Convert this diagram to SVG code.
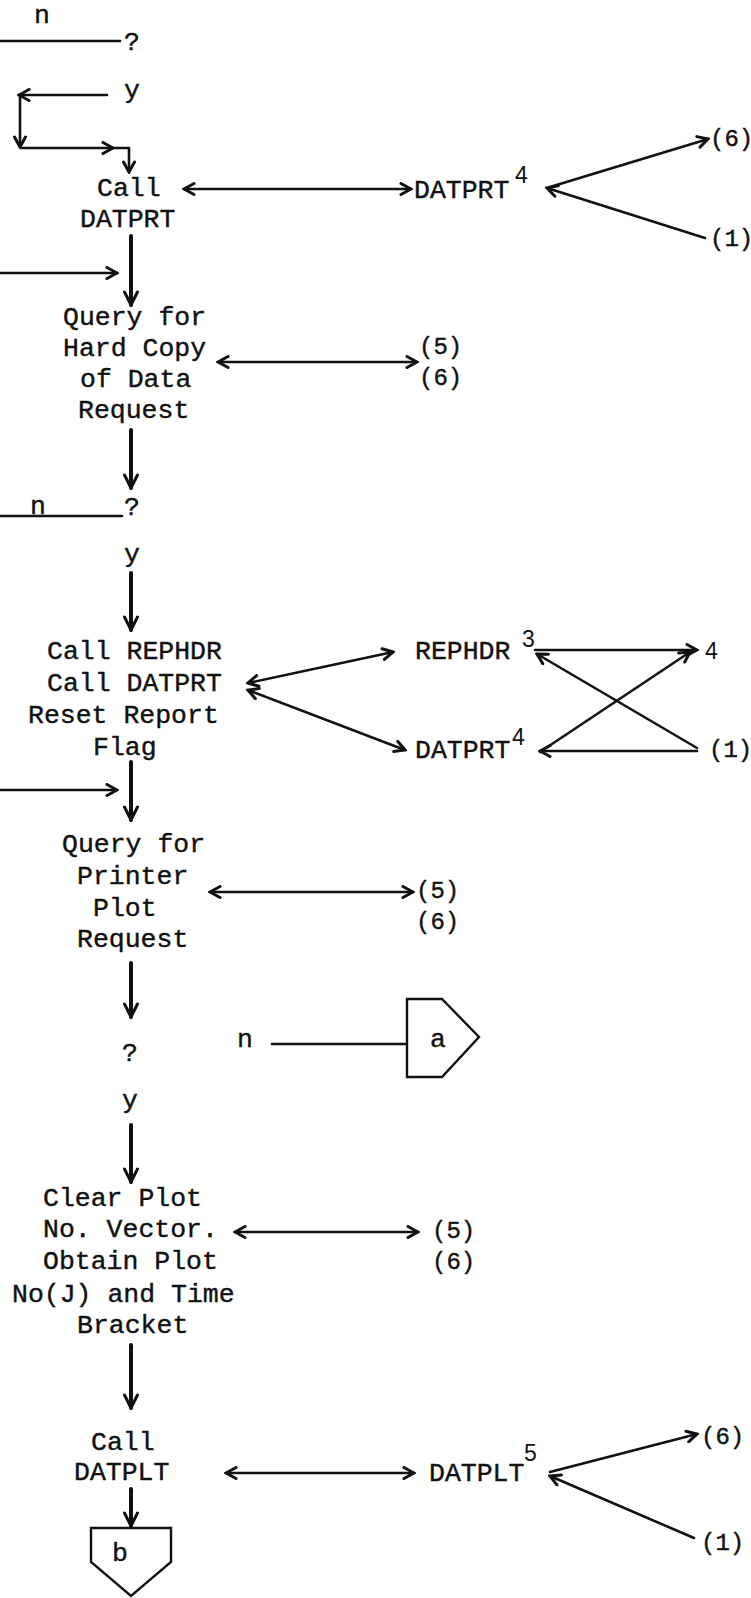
<svg xmlns="http://www.w3.org/2000/svg" width="751" height="1598" viewBox="0 0 751 1598">
<style>
.t{font-family:"Liberation Mono","DejaVu Sans Mono",monospace;font-size:26.5px;fill:#111;stroke:#111;stroke-width:0.4}
.p{font-family:"Liberation Mono","DejaVu Sans Mono",monospace;font-size:24px;fill:#111;stroke:#111;stroke-width:0.4}
.s{font-family:"Liberation Sans",Arial,sans-serif;font-size:23px;fill:#111}
.c{fill:none;stroke:#111;stroke-width:2.6;stroke-linecap:round;stroke-linejoin:round}
.v{fill:none;stroke:#111;stroke-width:4;stroke-linecap:round}
.shape{fill:#fff;stroke:#111;stroke-width:2.4;stroke-linejoin:miter}
</style>
<defs>
<marker id="ah" viewBox="0 0 14 14" refX="12" refY="7" markerWidth="14" markerHeight="14" markerUnits="userSpaceOnUse" orient="auto-start-reverse">
<path d="M2,1.5 L12,7 L2,12.5" fill="none" stroke="#111" stroke-width="3" stroke-linejoin="miter" stroke-linecap="round"/>
</marker>
<marker id="av" viewBox="0 0 18 16" refX="16" refY="8" markerWidth="18" markerHeight="16" markerUnits="userSpaceOnUse" orient="auto">
<path d="M3,1.5 L16,8 L3,14.5" fill="none" stroke="#111" stroke-width="3" stroke-linejoin="miter" stroke-linecap="round"/>
</marker>
</defs>

<g id="connectors">
<path class="c" d="M0,41 H120"/>
<path class="c" d="M107,95 H19" marker-end="url(#ah)"/>
<path class="c" d="M20,96 V147" marker-end="url(#ah)"/>
<path class="c" d="M21,148 H113" marker-end="url(#ah)"/>
<path class="c" d="M112,148 H129 V172" marker-end="url(#ah)"/>
<path class="c" d="M184,189 H411" marker-start="url(#ah)" marker-end="url(#ah)"/>
<path class="c" d="M550,187 L708,139" marker-end="url(#ah)"/>
<path class="c" d="M705,238 L547,188" marker-end="url(#ah)"/>
<path class="v" d="M131,236 V305" marker-end="url(#av)"/>
<path class="c" d="M0,273 H117" marker-end="url(#ah)"/>
<path class="c" d="M218,362 H417" marker-start="url(#ah)" marker-end="url(#ah)"/>
<path class="v" d="M131,430 V488" marker-end="url(#av)"/>
<path class="c" d="M0,516 H122"/>
<path class="v" d="M131,573 V630" marker-end="url(#av)"/>
<path class="c" d="M248,683 L393,652" marker-start="url(#ah)" marker-end="url(#ah)"/>
<path class="c" d="M248,690 L405,750" marker-start="url(#ah)" marker-end="url(#ah)"/>
<path class="c" d="M535,650 H697" marker-end="url(#ah)"/>
<path class="c" d="M697,748 L537,654" marker-end="url(#ah)"/>
<path class="c" d="M540,752 L690,652" marker-end="url(#ah)"/>
<path class="c" d="M697,751 H540" marker-end="url(#ah)"/>
<path class="v" d="M131,762 V820" marker-end="url(#av)"/>
<path class="c" d="M0,790 H117" marker-end="url(#ah)"/>
<path class="c" d="M210,892 H413" marker-start="url(#ah)" marker-end="url(#ah)"/>
<path class="v" d="M131,963 V1017" marker-end="url(#av)"/>
<path class="c" d="M272,1044 H407"/>
<path class="v" d="M131,1125 V1182" marker-end="url(#av)"/>
<path class="c" d="M235,1232 H418" marker-start="url(#ah)" marker-end="url(#ah)"/>
<path class="v" d="M131,1345 V1408" marker-end="url(#av)"/>
<path class="c" d="M226,1473 H414" marker-start="url(#ah)" marker-end="url(#ah)"/>
<path class="c" d="M550,1472 L697,1434" marker-end="url(#ah)"/>
<path class="c" d="M694,1538 L550,1476" marker-end="url(#ah)"/>
<path class="v" d="M131,1489 V1526" marker-end="url(#av)"/>
</g>

<g id="n-top"><text class="t" x="34" y="23">n</text></g>
<g id="q1"><text class="t" x="124" y="50">?</text></g>
<g id="y1"><text class="t" x="124" y="98">y</text></g>
<g id="call-datprt">
<text class="t" x="97" y="196">Call</text>
<text class="t" x="80" y="227">DATPRT</text>
</g>
<g id="datprt4-top">
<text class="t" x="414" y="198">DATPRT</text>
<text class="s" x="515" y="183">4</text>
</g>
<g id="p6-top"><text class="p" x="710" y="146">(6)</text></g>
<g id="p1-top"><text class="p" x="710" y="246">(1)</text></g>
<g id="query-hardcopy">
<text class="t" x="63" y="325">Query for</text>
<text class="t" x="63" y="356">Hard Copy</text>
<text class="t" x="80" y="387">of Data</text>
<text class="t" x="78" y="418">Request</text>
</g>
<g id="p56-a"><text class="p" x="419" y="354">(5)</text><text class="p" x="419" y="385">(6)</text></g>
<g id="q2"><text class="t" x="124" y="515">?</text><text class="t" x="30" y="514">n</text></g>
<g id="y2"><text class="t" x="124" y="562">y</text></g>
<g id="call-rephdr">
<text class="t" x="47" y="659">Call REPHDR</text>
<text class="t" x="47" y="691">Call DATPRT</text>
<text class="t" x="28" y="723">Reset Report</text>
<text class="t" x="93" y="755">Flag</text>
</g>
<g id="rephdr3">
<text class="t" x="415" y="659">REPHDR</text>
<text class="s" x="522" y="647">3</text>
</g>
<g id="four"><text class="s" x="705" y="659">4</text></g>
<g id="datprt4-mid">
<text class="t" x="415" y="758">DATPRT</text>
<text class="s" x="512" y="745">4</text>
</g>
<g id="p1-mid"><text class="p" x="709" y="757">(1)</text></g>
<g id="query-printer">
<text class="t" x="62" y="852">Query for</text>
<text class="t" x="77" y="884">Printer</text>
<text class="t" x="93" y="916">Plot</text>
<text class="t" x="77" y="947">Request</text>
</g>
<g id="p56-b"><text class="p" x="416" y="898">(5)</text><text class="p" x="416" y="929">(6)</text></g>
<g id="q3"><text class="t" x="122" y="1061">?</text></g>
<g id="n3"><text class="t" x="237" y="1047">n</text></g>
<g id="conn-a">
<path class="shape" d="M407,999 H442 L479,1037 L442,1077 H407 Z"/>
<text class="t" x="430" y="1047">a</text>
</g>
<g id="y3"><text class="t" x="122" y="1108">y</text></g>
<g id="clear-plot">
<text class="t" x="43" y="1206">Clear Plot</text>
<text class="t" x="43" y="1237">No. Vector.</text>
<text class="t" x="43" y="1269">Obtain Plot</text>
<text class="t" x="12" y="1302">No(J) and Time</text>
<text class="t" x="77" y="1333">Bracket</text>
</g>
<g id="p56-c"><text class="p" x="432" y="1238">(5)</text><text class="p" x="432" y="1269">(6)</text></g>
<g id="call-datplt">
<text class="t" x="91" y="1450">Call</text>
<text class="t" x="74" y="1480">DATPLT</text>
</g>
<g id="datplt5">
<text class="t" x="429" y="1481">DATPLT</text>
<text class="s" x="524" y="1461">5</text>
</g>
<g id="p6-bot"><text class="p" x="701" y="1444">(6)</text></g>
<g id="p1-bot"><text class="p" x="701" y="1550">(1)</text></g>
<g id="conn-b">
<path class="shape" d="M91,1528 H171 V1562 L131,1596 L91,1562 Z"/>
<text class="t" x="112" y="1561">b</text>
</g>
</svg>
